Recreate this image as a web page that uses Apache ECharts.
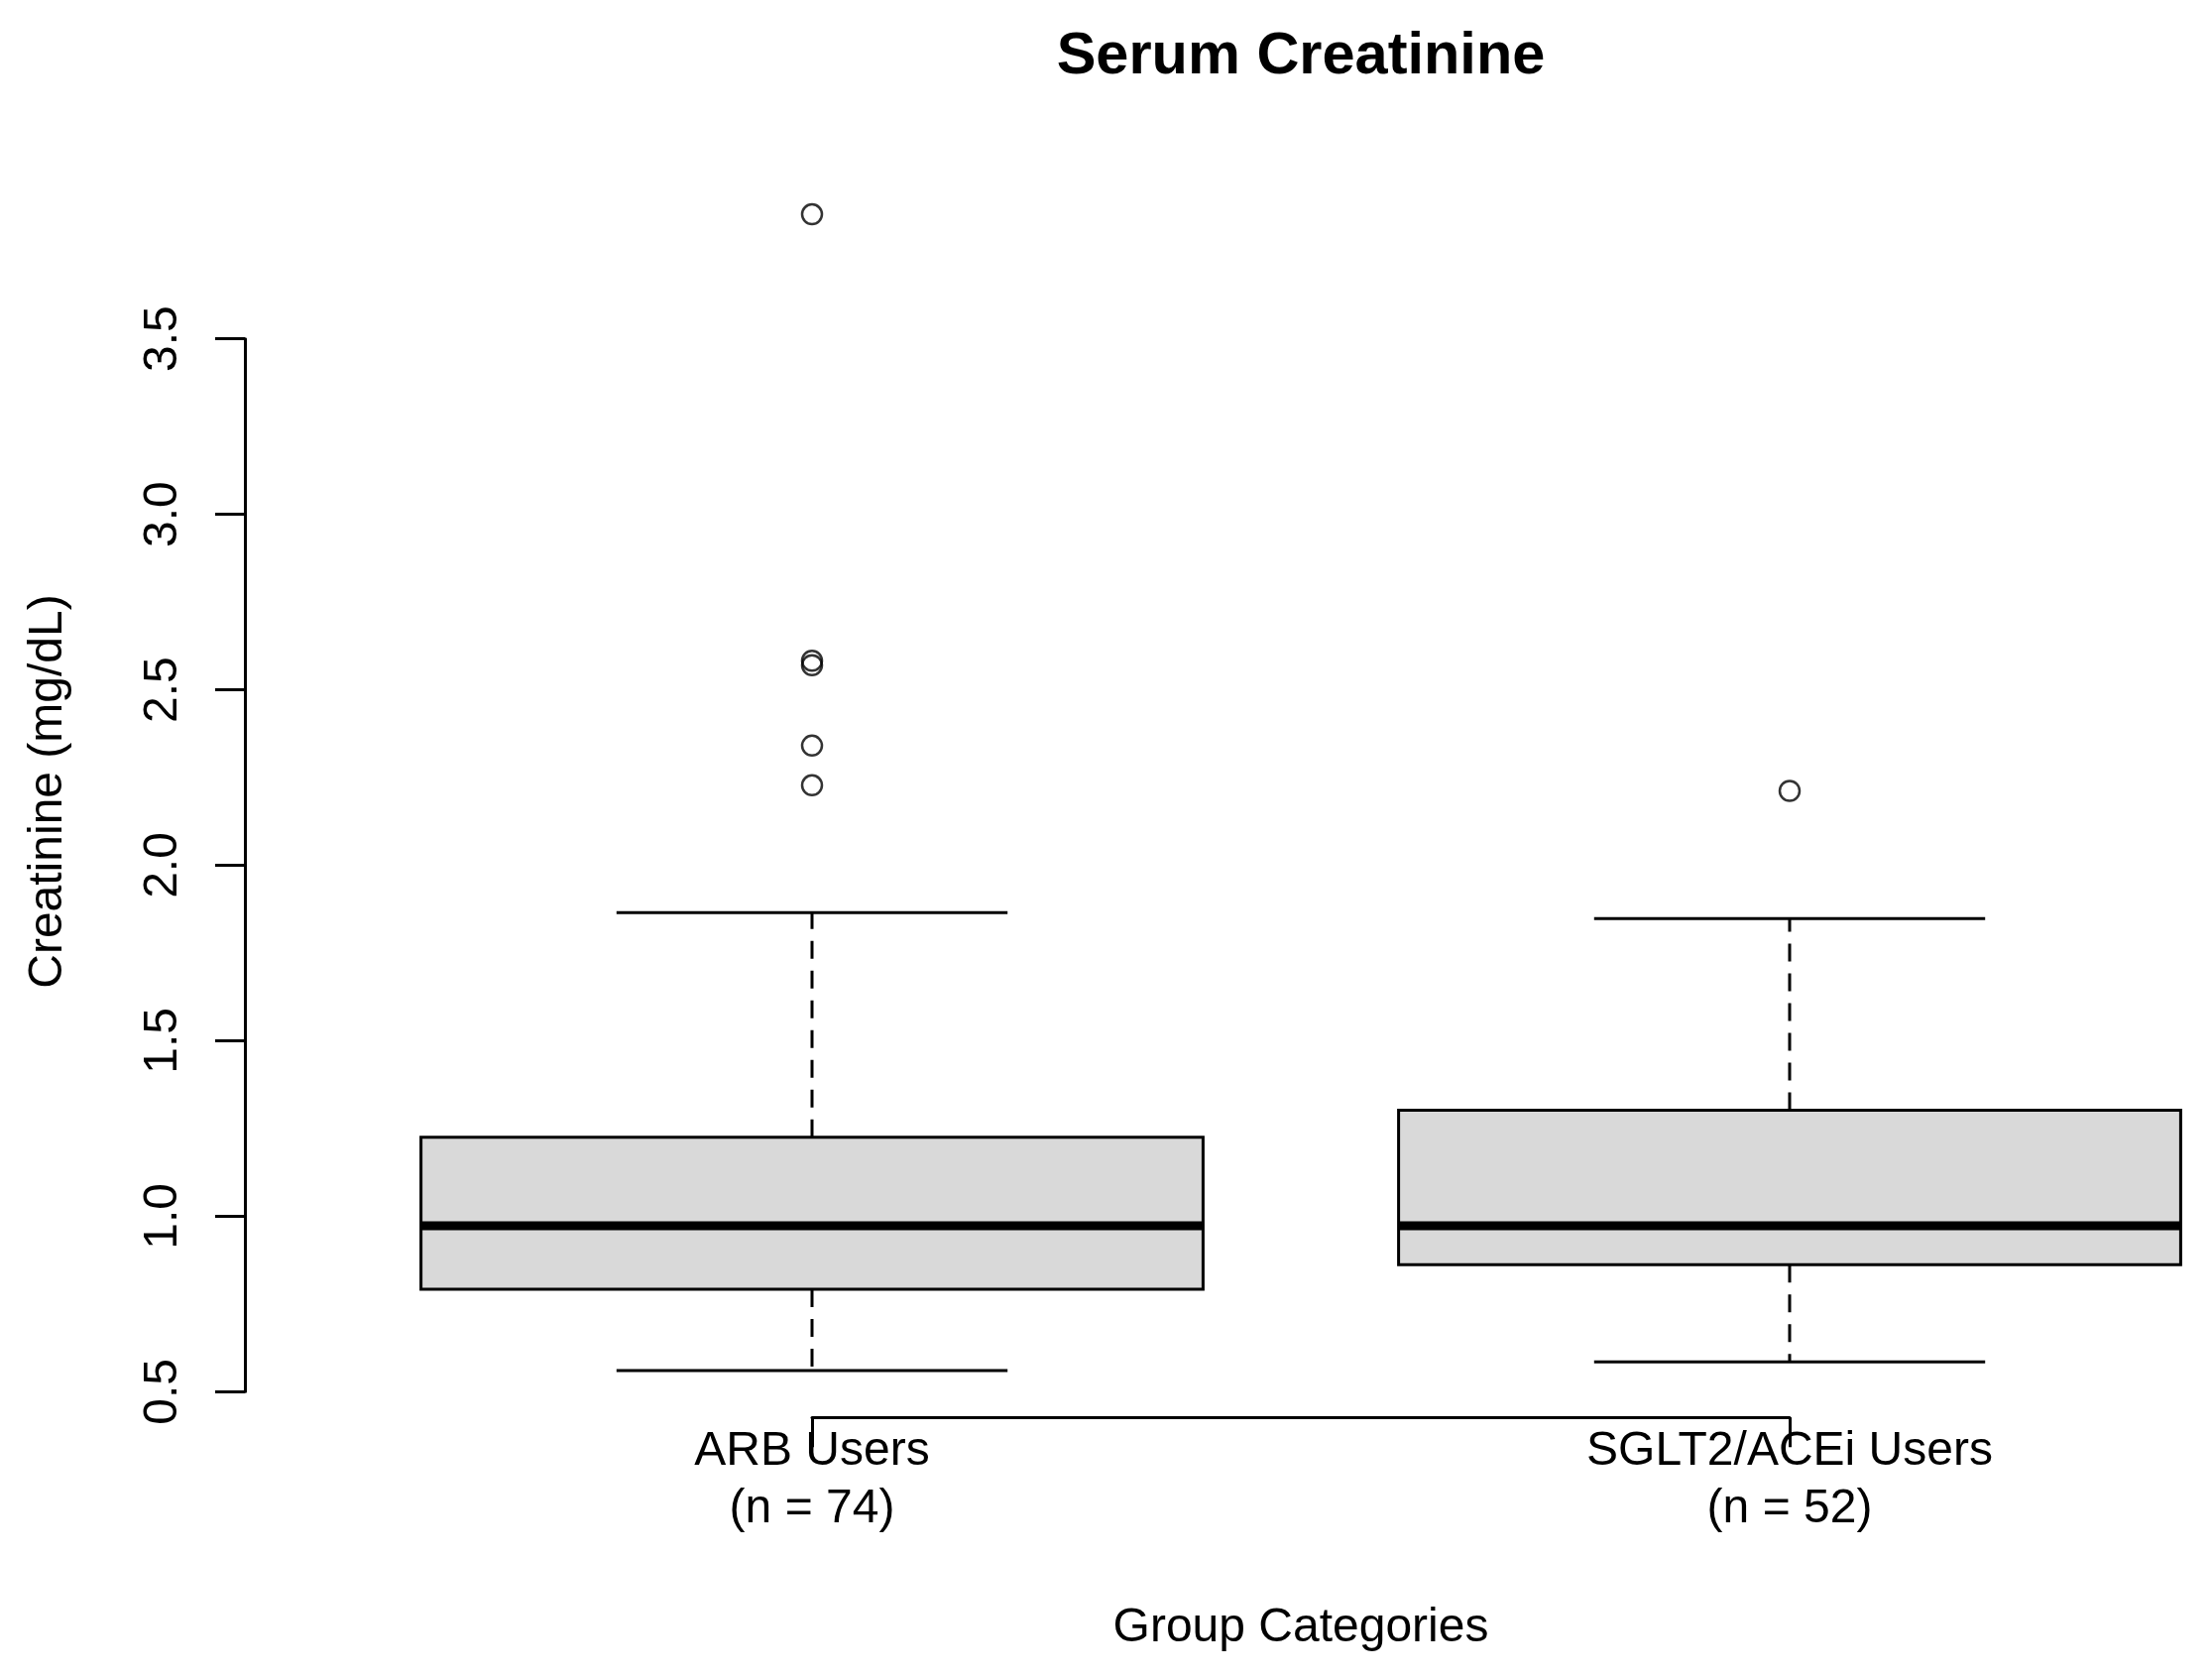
<!DOCTYPE html>
<html>
<head>
<meta charset="utf-8">
<title>Serum Creatinine</title>
<script src="https://cdn.jsdelivr.net/npm/echarts@6/dist/echarts.min.js"></script>
<style>
  html, body { margin: 0; padding: 0; background: #fff; }
  #chart { width: 2231px; height: 1691px; }
</style>
</head>
<body>
<div id="chart"></div>
<script>
// groups on the x axis (positions 1 and 2)
const groupNames = ['ARB Users', 'SGLT2/ACEi Users'];
const groupN = [74, 52];

// five-number summaries (mg/dL)
const whiskerLow = [0.56, 0.585];
const q1 = [0.792, 0.862];
const median = [0.973, 0.973];
const q3 = [1.225, 1.302];
const whiskerHigh = [1.865, 1.848];

// outlying points per group
const outliersARB = [3.855, 2.583, 2.570, 2.341, 2.228];
const outliersSGLT = [2.212];

const yTicks = [0.5, 1.0, 1.5, 2.0, 2.5, 3.0, 3.5];

const FONT = '"Liberation Sans", Arial, sans-serif';
const BOX_HALF = 0.4;
const CAP_HALF = 0.2;

const boxData = groupNames.map((g, i) => [i + 1, whiskerLow[i], q1[i], median[i], q3[i], whiskerHigh[i]]);

const outlierData = [];
outliersARB.forEach(v => outlierData.push([1, v]));
outliersSGLT.forEach(v => outlierData.push([2, v]));

const chart = echarts.init(document.getElementById('chart'));

function renderBox(params, api) {
  const x = api.value(0);
  const lo = api.coord([x, api.value(1)]);
  const b1 = api.coord([x, api.value(2)]);
  const md = api.coord([x, api.value(3)]);
  const b3 = api.coord([x, api.value(4)]);
  const hi = api.coord([x, api.value(5)]);
  const boxL = api.coord([x - BOX_HALF, 0])[0];
  const boxR = api.coord([x + BOX_HALF, 0])[0];
  const capL = api.coord([x - CAP_HALF, 0])[0];
  const capR = api.coord([x + CAP_HALF, 0])[0];
  const solid = { stroke: '#000', lineWidth: 3, fill: null };
  const dashed = { stroke: '#000', lineWidth: 3, lineDash: [18, 12], fill: null };
  return {
    type: 'group',
    children: [
      { type: 'line', shape: { x1: hi[0], y1: b3[1], x2: hi[0], y2: hi[1] }, style: dashed },
      { type: 'line', shape: { x1: lo[0], y1: b1[1], x2: lo[0], y2: lo[1] }, style: dashed },
      { type: 'line', shape: { x1: capL, y1: hi[1], x2: capR, y2: hi[1] }, style: solid },
      { type: 'line', shape: { x1: capL, y1: lo[1], x2: capR, y2: lo[1] }, style: solid },
      {
        type: 'rect',
        shape: { x: boxL, y: b3[1], width: boxR - boxL, height: b1[1] - b3[1] },
        style: { fill: '#d9d9d9', stroke: '#000', lineWidth: 3 }
      },
      { type: 'line', shape: { x1: boxL, y1: md[1], x2: boxR, y2: md[1] }, style: { stroke: '#000', lineWidth: 9 } }
    ]
  };
}

const option = {
  backgroundColor: '#fff',
  animation: false,
  title: {
    text: 'Serum Creatinine',
    left: 1307,
    top: 23,
    textAlign: 'center',
    textStyle: { fontFamily: FONT, fontSize: 59.5, fontWeight: 'bold', color: '#000' }
  },
  grid: { left: 819, right: 426, top: 341.7, bottom: 287.7 },
  xAxis: {
    type: 'value',
    min: 1,
    max: 2,
    interval: 1,
    offset: 26,
    splitLine: { show: false },
    axisLine: { show: true, lineStyle: { color: '#000', width: 3 } },
    axisTick: { show: true, length: 30, lineStyle: { color: '#000', width: 3 } },
    axisLabel: {
      margin: 5,
      fontFamily: FONT,
      fontSize: 48,
      lineHeight: 58,
      color: '#000',
      formatter: v => {
        const i = Math.round(v) - 1;
        return groupNames[i] + '\n(n = ' + groupN[i] + ')';
      }
    },
    name: 'Group Categories',
    nameLocation: 'middle',
    nameGap: 188,
    nameTextStyle: { fontFamily: FONT, fontSize: 48, color: '#000' }
  },
  yAxis: {
    type: 'value',
    min: yTicks[0],
    max: yTicks[yTicks.length - 1],
    interval: 0.5,
    offset: 572,
    splitLine: { show: false },
    axisLine: { show: true, lineStyle: { color: '#000', width: 3 } },
    axisTick: { show: true, length: 30, lineStyle: { color: '#000', width: 3 } },
    axisLabel: {
      rotate: 90,
      margin: 58,
      fontFamily: FONT,
      fontSize: 48,
      color: '#000',
      formatter: v => v.toFixed(1)
    }
  },
  graphic: [{
    type: 'text',
    x: 49,
    y: 798,
    rotation: Math.PI / 2,
    style: {
      text: 'Creatinine (mg/dL)',
      fontFamily: FONT,
      fontSize: 48,
      fill: '#000',
      align: 'center',
      verticalAlign: 'middle'
    }
  }],
  series: [
    {
      type: 'custom',
      clip: false,
      renderItem: renderBox,
      encode: { x: 0, y: [1, 2, 3, 4, 5] },
      data: boxData,
      z: 2
    },
    {
      type: 'scatter',
      clip: false,
      symbol: 'circle',
      symbolSize: 20,
      itemStyle: { color: 'rgba(0,0,0,0)', borderColor: '#000', borderWidth: 2.5 },
      data: outlierData,
      z: 3
    }
  ]
};

chart.setOption(option);
</script>
</body>
</html>
